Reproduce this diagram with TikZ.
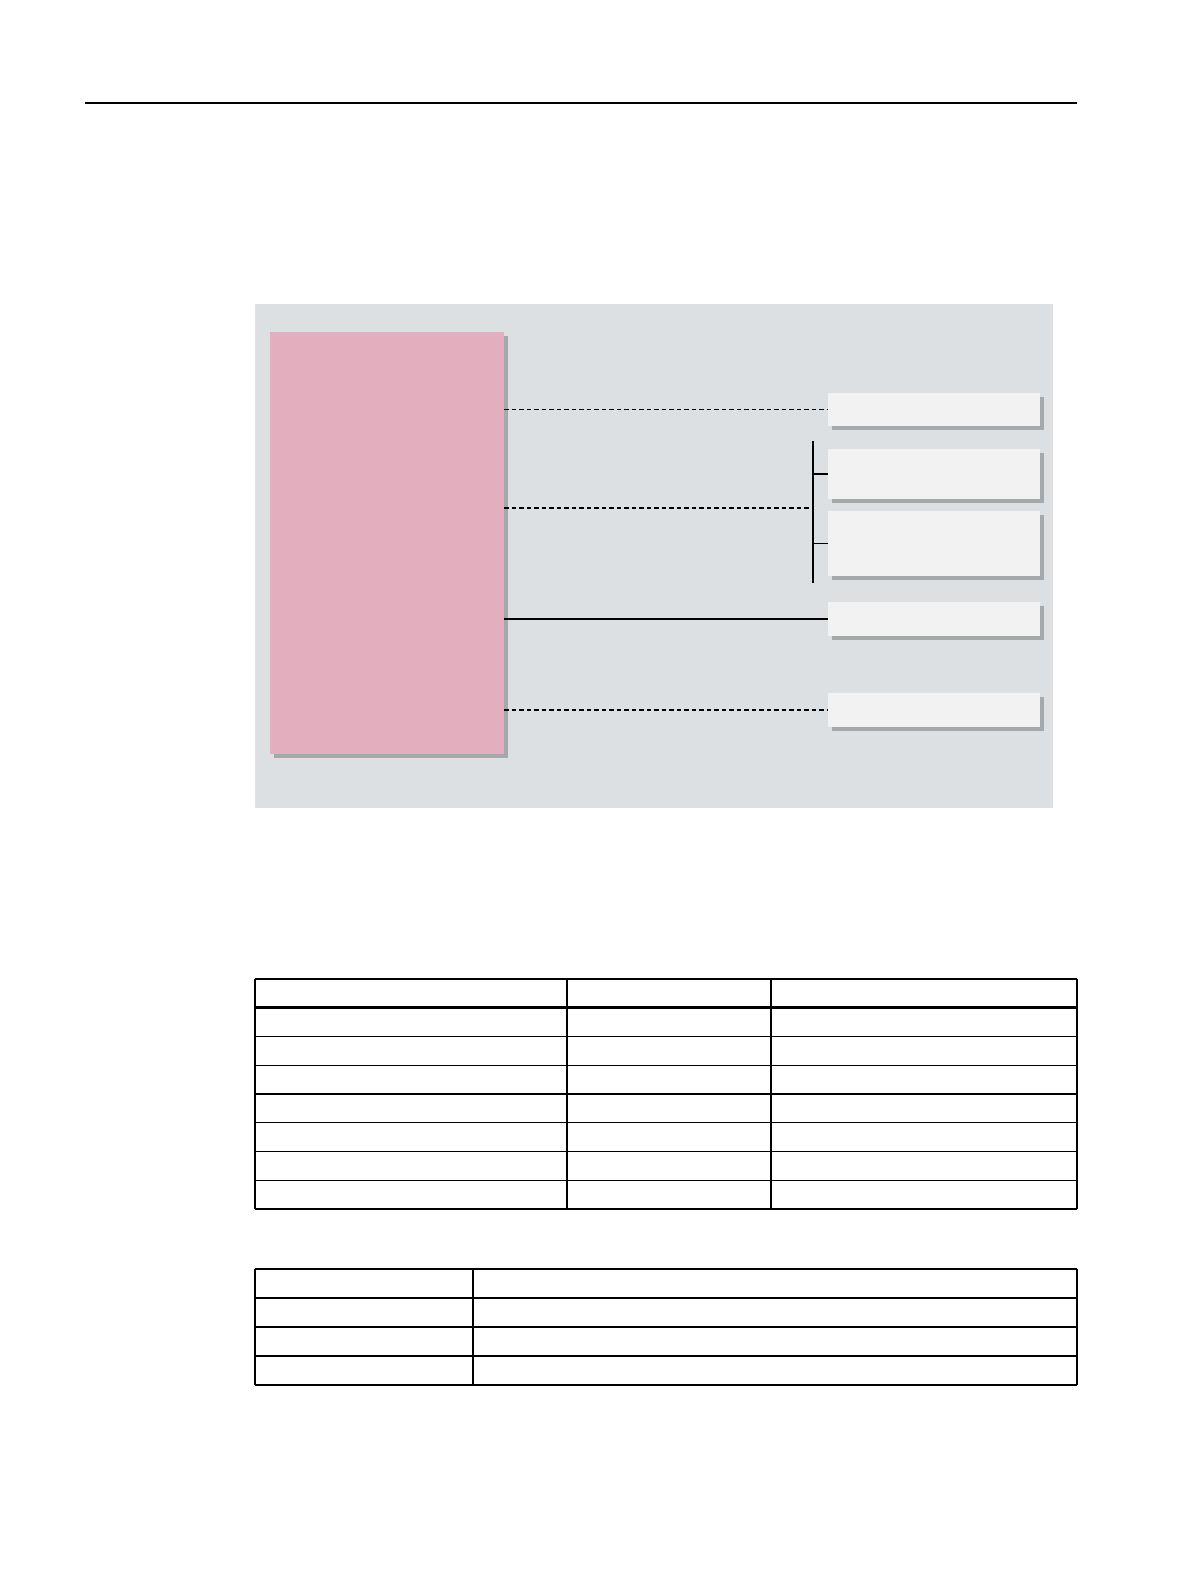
\documentclass[tikz,border=0pt]{standalone}
\usepackage{tikz}
\usetikzlibrary{positioning,shadows}
\definecolor{panelgray}{HTML}{DCE0E3}
\definecolor{panelpink}{HTML}{E3AFBF}
\definecolor{cardwhite}{HTML}{F2F2F2}
\definecolor{shadowgray}{HTML}{A4A9AC}

\begin{document}
\begin{tikzpicture}[x=1pt, y=-1pt,
    panel/.style={rectangle, anchor=north west, inner sep=0pt, outer sep=0pt,
        drop shadow={shadow xshift=3.5pt, shadow yshift=-4pt, opacity=1, fill=shadowgray}},
    card/.style={panel, fill=cardwhite, minimum width=212pt},
    link/.style={line width=1.3pt},
    dashlink/.style={link, dash pattern=on 4.5pt off 3pt},
    tablerule/.style={line width=1.2pt},
    headrule/.style={line width=2.8pt}]
\useasboundingbox (0,0) rectangle (1191,1587);
% page rule
\draw[line width=1.5pt] (85,103) -- (1077,103);
% background and main panel
\node[rectangle, anchor=north west, inner sep=0pt, fill=panelgray,
      minimum width=798pt, minimum height=504pt] (bg) at (255,304) {};
\node[panel, fill=panelpink, minimum width=234pt, minimum height=422pt] (main) at (270,332) {};
% cards on the right
\node[card, minimum height=33pt] (card1) at (828,393) {};
\node[card, minimum height=50pt] (card2) at (828,449) {};
\node[card, minimum height=65pt] (card3) at (828,511) {};
\node[card, minimum height=34pt] (card4) at (828,602) {};
\node[card, minimum height=34pt] (card5) at (828,693) {};
% bracket
\coordinate (brtop) at (813,441);
\coordinate (brmid) at (813,508);
\coordinate (brbot) at (813,583);
\draw[link] (brtop) -- (brbot);
\draw[link] (brtop |- card2.west) -- (card2.west);
\draw[link] (brtop |- card3.west) -- (card3.west);
% connectors
\draw[dashlink] (main.east |- card1.west) -- (card1.west);
\draw[dashlink] (main.east |- brmid) -- (brmid);
\draw[link] (main.east |- card4.west) -- (card4.west);
\draw[dashlink] (main.east |- card5.west) -- (card5.west);
% table 1
\foreach \k in {0,2,3,4,5,6,7,8}
    \draw[tablerule] (255,{979+28.75*\k}) -- (1077,{979+28.75*\k});
\draw[headrule] (255,1007.75) -- (1077,1007.75);
\foreach \xx in {255,567,771,1077}
    \draw[tablerule] (\xx,979) -- (\xx,1209);
% table 2
\foreach \k in {0,2,3,4}
    \draw[tablerule] (255,{1269+29*\k}) -- (1077,{1269+29*\k});
\draw[headrule] (255,1298) -- (1077,1298);
\foreach \xx in {255,473,1077}
    \draw[tablerule] (\xx,1269) -- (\xx,1385);
\end{tikzpicture}
\end{document}
